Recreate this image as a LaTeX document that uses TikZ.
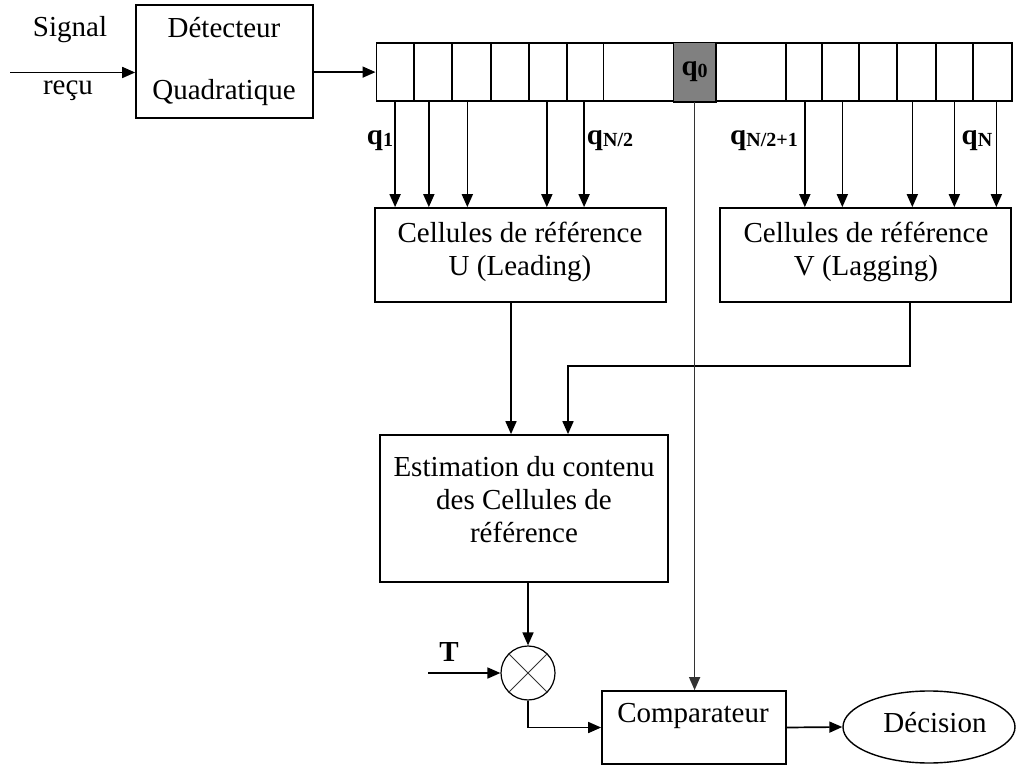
\documentclass[tikz,border=0pt]{standalone}
\usepackage{fontspec}
\setmainfont{Liberation Serif}
\usetikzlibrary{arrows.meta,shapes.geometric}
\begin{document}
\begin{tikzpicture}[x=1pt,y=-1pt,
  line width=1.7pt,
  arr/.style={-{Triangle[length=13pt,width=11pt]}},
  box/.style={draw, rectangle, inner sep=0pt},
  txt/.style={font=\fontsize{29}{33}\selectfont, inner sep=0pt, align=center},
  qlbl/.style={font=\fontsize{29}{29}\selectfont\bfseries, inner sep=0pt},
]
\newcommand{\qsub}[1]{\textbf{q}\raisebox{-2pt}{\fontsize{20}{20}\selectfont\textbf{#1}}}
\useasboundingbox (0,0) rectangle (1018,767);

% input and detector
\node[box, minimum width=177pt, minimum height=113pt] (det) at (224.5,61.5) {};
\node[txt, font=\fontsize{29}{62}\selectfont] (dett) at (224,62) {Détecteur\\Quadratique};
\coordinate (in) at (10,72.5);
\node[txt] (sig) at (70,30) {Signal};
\node[txt] (recu) at (68,91) {reçu};

% cell strip
\foreach \a/\b [count=\i] in {375.5/413, 413/451, 451/490, 490/528, 528/566, 566/602.5, 602.5/673.5, 673.5/714, 714/785, 785/821, 821/858, 858/896, 896/935, 935/972, 972/1011} {
  \pgfmathsetmacro\w{\b-\a}
  \node[box, minimum width=\w pt, minimum height=57.5pt, anchor=north west] (c\i) at (\a,42.5) {};
}
\fill[gray] (c8.north west) rectangle (c8.south east);
\draw (c8.north west) rectangle (c8.south east);
\node[qlbl] (q0) at (c8.center) {\qsub{0}};

\draw[arr] (in) -- (in -| det.west);
\draw[arr] (det.east |- c1.west) -- (c1.west);

% reference boxes
\node[box, minimum width=291pt, minimum height=94pt] (U) at (520.5,255) {};
\node[txt] (Ut) at (520,251.5) {Cellules de référence\\U (Leading)};
\node[box, minimum width=291pt, minimum height=94pt] (V) at (865.5,255) {};
\node[txt] (Vt) at (866,251.5) {Cellules de référence\\V (Lagging)};

\foreach \i/\dx in {1/0, 2/-4, 3/-4, 5/-1, 6/-1, 10/1, 11/2, 13/-4, 14/0, 15/4} {
  \draw[arr] ([xshift=\dx pt]c\i.south) -- ([xshift=\dx pt]c\i.south |- U.north);
}
\node[qlbl] (q1) at (380,141) {\qsub{1}};
\node[qlbl] (qn2) at (610,141) {\qsub{N/2}};
\node[qlbl] (qn21) at (764,141) {\qsub{N/2+1}};
\node[qlbl] (qn) at (977,141) {\qsub{N}};

% estimation
\node[box, minimum width=288pt, minimum height=147pt] (Est) at (524,508.5) {};
\node[txt] (Estt) at (524,500) {Estimation du contenu\\des Cellules de\\référence};
\draw[arr] ([xshift=-9.5pt]U.south) -- ([xshift=-9.5pt]U.south |- Est.north);
\draw[arr] ([xshift=44.5pt]V.south) -- ++(0,63) -| ([xshift=44pt]Est.north);

% multiplier
\node[draw, circle, line width=1.2pt, minimum size=54pt, inner sep=0pt] (mul) at (528,673) {};
\draw[line width=1pt, black!80] (mul.45) -- (mul.225) (mul.135) -- (mul.315);
\draw[arr] (Est.south -| mul.north) -- (mul.north);
\coordinate (T) at (428,673);
\node[qlbl] (Tl) at (449,652) {T};
\draw[arr] (T) -- (mul.west);

% comparator and decision
\node[box, minimum width=184pt, minimum height=73pt] (Comp) at (694,727.5) {};
\node[txt] (Compt) at (693,716) {Comparateur};
\node[draw, ellipse, minimum width=172pt, minimum height=72pt, inner sep=0pt, line width=1.4pt] (Dec) at (929,727) {};
\node[txt] (Dect) at (935,723) {Décision};
\draw[arr] (mul.south) |- (Comp.west);
\draw[arr, line width=1.4pt, black!80] (c8.south) -- (c8.south |- Comp.north);
\draw[arr] (Comp.east) -- (Dec.west);
\end{tikzpicture}
\end{document}
